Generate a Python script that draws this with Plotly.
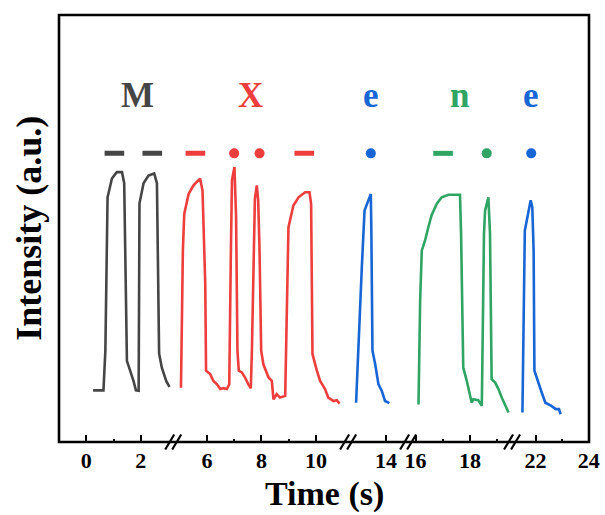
import plotly.graph_objects as go

# ---------------- data (time in s, intensity in a.u.) ----------------
m_t = [0.25, 0.63, 0.70, 0.78, 0.94, 1.12, 1.31, 1.39, 1.49, 1.61, 1.73, 1.82,
       1.92, 1.95, 2.10, 2.28, 2.49, 2.59, 2.67, 2.77, 2.93, 3.05]
m_v = [12.1, 12.1, 21.4, 57.3, 61.7, 63.2, 63.2, 60.6, 19.0, 16.7, 14.3, 12.1,
       12.0, 55.9, 60.6, 62.4, 62.9, 60.6, 20.7, 17.4, 14.3, 12.9]

x_t = [5.05, 5.12, 5.17, 5.33, 5.51, 5.75, 5.84, 5.94, 5.97, 6.12, 6.24, 6.37,
       6.49, 6.61, 6.73, 6.82, 6.88, 6.92, 7.01, 7.07, 7.12, 7.17, 7.28, 7.40,
       7.52, 7.61, 7.65, 7.71, 7.76, 7.83, 7.88, 7.93, 7.99, 8.07, 8.26, 8.38,
       8.44, 8.56, 8.68, 8.87, 8.93, 8.99, 9.17, 9.36, 9.60, 9.76, 9.82, 9.87,
       10.03, 10.15, 10.33, 10.45, 10.64, 10.76, 10.86]
x_v = [12.7, 44.8, 53.4, 58.1, 60.1, 61.7, 58.9, 37.0, 16.7, 15.9, 14.3, 13.5,
       12.4, 12.6, 12.4, 13.5, 44.8, 61.3, 64.4, 52.7, 21.4, 16.7, 16.3, 15.1,
       13.5, 12.6, 21.4, 46.4, 57.0, 60.1, 56.6, 44.8, 21.4, 18.2, 15.1, 14.3,
       10.0, 11.2, 10.4, 10.8, 29.2, 50.3, 55.4, 57.3, 58.5, 58.5, 55.8, 20.6,
       16.7, 14.3, 12.4, 10.4, 9.6, 9.8, 9.0]

e1_t = [12.90, 12.99, 13.11, 13.21, 13.35, 13.44, 13.46, 13.50, 13.60, 13.72,
        13.84, 13.96, 14.12]
e1_v = [9.2, 24.5, 40.9, 54.2, 56.6, 58.1, 48.8, 21.4, 18.2, 13.5, 12.0, 9.6, 9.1]

n_t = [16.11, 16.17, 16.23, 16.35, 16.47, 16.59, 16.78, 16.96, 17.21, 17.63,
       17.67, 17.75, 17.88, 18.00, 18.06, 18.12, 18.30, 18.43, 18.46, 18.51,
       18.55, 18.67, 18.73, 18.79, 18.92, 19.04, 19.16, 19.41]
n_v = [8.8, 33.1, 44.8, 47.2, 50.3, 53.1, 55.8, 57.3, 57.9, 57.9, 48.8, 17.4,
       14.3, 11.2, 9.2, 10.0, 9.8, 8.5, 29.2, 48.8, 54.2, 57.3, 48.8, 14.7,
       13.9, 12.4, 10.4, 6.9]

e2_t = [21.51, 21.56, 21.60, 21.72, 21.82, 21.88, 21.93, 21.96, 22.08, 22.21,
        22.37, 22.58, 22.76, 22.88, 22.94]
e2_v = [6.9, 29.2, 49.5, 53.4, 56.6, 55.0, 44.8, 16.7, 14.3, 12.0, 9.2, 8.5,
        7.7, 7.7, 6.5]

# Morse symbols: time positions of dashes / dots, level
morse_level = 67.6
m_dash = [1.03, 2.42]
x_dash = [5.58, 9.57]
x_dot = [7.00, 7.93]
e1_dot = [13.44]
n_dash = [17.01]
n_dot = [18.61]
e2_dot = [21.84]

# Letters
letters = ["M", "X", "e", "n", "e"]
letter_t = [1.86, 7.59, 13.44, 17.63, 21.84]
letter_level = 81.2

# Axis segments (broken x axis)
seg_ranges = [[-1.0, 3.187], [4.766, 11.176], [12.608, 14.806],
              [15.729, 19.538], [21.121, 24.005]]
seg_ticks = [[0, 2], [6, 8, 10], [14], [16, 18], [22, 24]]
seg_minor = [[1], [7, 9], [], [17, 19], [23]]

# ---------------- styling ----------------
GRAY = "#454545"
RED = "#EE3D3D"
BLUE = "#1866D6"
GREEN = "#2FA463"
FONT = "Liberation Serif"

domains = [[0, 0.2155], [0.2155, 0.5455], [0.5455, 0.6587],
           [0.6587, 0.8548], [0.8548, 1.0]]
axnames = ["x", "x2", "x3", "x4", "x5"]

fig = go.Figure()

curves = [(m_t, m_v, GRAY, "x"), (x_t, x_v, RED, "x2"), (e1_t, e1_v, BLUE, "x3"),
          (n_t, n_v, GREEN, "x4"), (e2_t, e2_v, BLUE, "x5")]
for t, v, c, ax in curves:
    fig.add_trace(go.Scatter(x=t, y=v, mode="lines", xaxis=ax, yaxis="y",
                             line=dict(color=c, width=2.6), showlegend=False,
                             hoverinfo="skip"))

dashes = [(m_dash, GRAY, "x"), (x_dash, RED, "x2"), (n_dash, GREEN, "x4")]
for t, c, ax in dashes:
    fig.add_trace(go.Scatter(x=t, y=[morse_level] * len(t), mode="markers",
                             xaxis=ax, yaxis="y", showlegend=False,
                             hoverinfo="skip",
                             marker=dict(symbol="line-ew", size=14,
                                         line=dict(color=c, width=5))))
dots = [(x_dot, RED, "x2"), (e1_dot, BLUE, "x3"), (n_dot, GREEN, "x4"),
        (e2_dot, BLUE, "x5")]
for t, c, ax in dots:
    fig.add_trace(go.Scatter(x=t, y=[morse_level] * len(t), mode="markers",
                             xaxis=ax, yaxis="y", showlegend=False,
                             hoverinfo="skip",
                             marker=dict(symbol="circle", size=10, color=c)))

letter_axes = ["x", "x2", "x3", "x4", "x5"]
letter_colors = [GRAY, RED, BLUE, GREEN, BLUE]
annotations = []
for txt, t, ax, c in zip(letters, letter_t, letter_axes, letter_colors):
    annotations.append(dict(text=txt, x=t, y=letter_level, xref=ax, yref="y",
                            showarrow=False, xanchor="center", yanchor="middle",
                            font=dict(family=FONT, size=35, color=c, weight="bold")))

annotations.append(dict(text="Time (s)", x=0.5, y=-0.1686, xref="paper",
                        yref="paper", showarrow=False, xanchor="center",
                        yanchor="bottom", borderpad=0,
                        font=dict(family=FONT, size=34, color="black", weight="bold")))
annotations.append(dict(text="Intensity (a.u.)", x=-0.058, y=0.5, xref="paper",
                        yref="paper", showarrow=False, textangle=-90,
                        xanchor="center", yanchor="middle",
                        font=dict(family=FONT, size=36, color="black", weight="bold")))

layout = dict(width=605, height=515, paper_bgcolor="white", plot_bgcolor="white",
              margin=dict(l=59, r=16, t=15, b=73, autoexpand=False),
              showlegend=False, annotations=annotations, hovermode=False)

for i, name in enumerate(axnames):
    key = "xaxis" if i == 0 else f"xaxis{i + 1}"
    layout[key] = dict(domain=domains[i], range=seg_ranges[i], anchor="y",
                       automargin=False,
                       showgrid=False, zeroline=False, showline=False,
                       tickmode="array", tickvals=seg_ticks[i],
                       ticks="inside", ticklen=7, tickwidth=2, tickcolor="black",
                       ticklabelstandoff=3,
                       tickfont=dict(family=FONT, size=22, color="black",
                                     weight="bold"),
                       minor=dict(tickmode="array", tickvals=seg_minor[i],
                                  ticks="inside", ticklen=3, tickwidth=2,
                                  tickcolor="black", showgrid=False))
layout["yaxis"] = dict(range=[0, 100], showgrid=False, zeroline=False,
                       automargin=False,
                       showline=False, showticklabels=False, ticks="")

shapes = [dict(type="rect", xref="paper", yref="paper", x0=0, x1=1, y0=0, y1=1,
               line=dict(color="black", width=2.6), layer="above")]
for bx in [0.2155, 0.5455, 0.6587, 0.8548]:
    for off in (-3.5, 3.5):
        shapes.append(dict(type="line", xref="paper", yref="paper",
                           xsizemode="pixel", ysizemode="pixel",
                           xanchor=bx, yanchor=0,
                           x0=off - 4.5, x1=off + 4.5, y0=-7.5, y1=7.5,
                           line=dict(color="black", width=2.2)))
layout["shapes"] = shapes

fig.update_layout(**layout)
fig.write_html(
    "out.html",
    config={"displayModeBar": False, "staticPlot": True},
    post_script="document.body.style.margin='0';document.body.style.padding='0';"
                "document.documentElement.style.overflow='hidden';",
)
